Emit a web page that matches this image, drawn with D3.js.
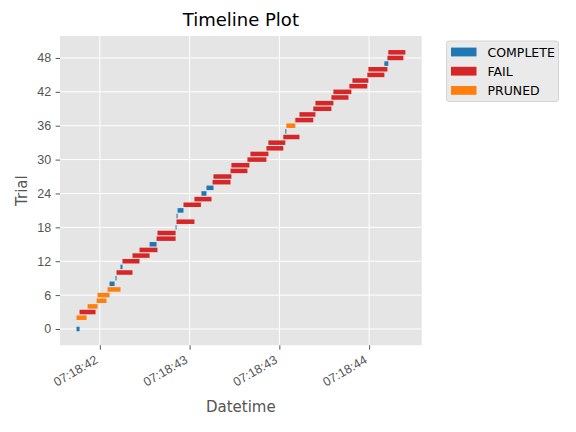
<!DOCTYPE html>
<html>
<head>
<meta charset="utf-8">
<script src="https://cdn.jsdelivr.net/npm/d3@7"></script>
<style>
  body { margin: 0; background: #fff; }
  svg { font-family: "DejaVu Sans", sans-serif; }
</style>
</head>
<body>
<div id="chart"></div>
<script>
// Timeline of optimisation trials (seconds after 07:18:42)
const trials = d3.range(50);
const states = [
  "COMPLETE", "COMPLETE", "PRUNED", "FAIL", "PRUNED", "PRUNED", "PRUNED", "PRUNED", "COMPLETE", "COMPLETE",
  "FAIL", "COMPLETE", "FAIL", "FAIL", "FAIL", "COMPLETE", "FAIL", "FAIL", "COMPLETE", "FAIL",
  "COMPLETE", "COMPLETE", "FAIL", "FAIL", "COMPLETE", "COMPLETE", "FAIL", "FAIL", "FAIL", "FAIL",
  "FAIL", "FAIL", "FAIL", "FAIL", "FAIL", "COMPLETE", "PRUNED", "FAIL", "FAIL", "FAIL",
  "FAIL", "FAIL", "FAIL", "FAIL", "FAIL", "FAIL", "FAIL", "COMPLETE", "FAIL", "FAIL"
];
const starts = [
  0.370, 0.387, 0.370, 0.387, 0.432, 0.482, 0.487, 0.543, 0.554, 0.587,
  0.593, 0.615, 0.626, 0.682, 0.721, 0.777, 0.816, 0.821, 0.922, 0.927,
  0.927, 0.933, 0.966, 1.027, 1.066, 1.094, 1.128, 1.133, 1.228, 1.233,
  1.322, 1.339, 1.428, 1.439, 1.522, 1.533, 1.539, 1.589, 1.612, 1.689,
  1.701, 1.790, 1.801, 1.890, 1.907, 1.990, 1.996, 2.085, 2.102, 2.107
];
const ends = [
  0.387, 0.387, 0.426, 0.476, 0.487, 0.537, 0.554, 0.615, 0.582, 0.593,
  0.682, 0.626, 0.721, 0.777, 0.821, 0.816, 0.922, 0.922, 0.927, 1.027,
  0.933, 0.966, 1.063, 1.122, 1.094, 1.133, 1.228, 1.233, 1.322, 1.333,
  1.428, 1.439, 1.522, 1.533, 1.612, 1.539, 1.589, 1.689, 1.701, 1.790,
  1.801, 1.885, 1.901, 1.990, 1.996, 2.085, 2.102, 2.107, 2.191, 2.202
];
const stateNames = ["COMPLETE", "FAIL", "PRUNED"];
const stateColors = ["#1f77b4", "#d62728", "#ff7f0e"];
const yTickValues = [0, 6, 12, 18, 24, 30, 36, 42, 48];

const base = new Date(2024, 0, 1, 7, 18, 42);
const toDate = s => new Date(base.getTime() + s * 1000);

const width = 576, height = 432;
const margin = { left: 60, right: 576 - 421.7, top: 36, bottom: 432 - 345.3 };
const color = d3.scaleOrdinal().domain(stateNames).range(stateColors);

const svg = d3.select("#chart").append("svg")
  .attr("width", width)
  .attr("height", height);

// matplotlib style 5% margins
const tMin = d3.min(starts), tMax = d3.max(ends);
const tPad = (tMax - tMin) * 0.05;
const x = d3.scaleTime()
  .domain([toDate(tMin - tPad), toDate(tMax + tPad)])
  .range([margin.left, width - margin.right]);

const yLo = d3.min(trials) - 0.4, yHi = d3.max(trials) + 0.4;
const yPad = (yHi - yLo) * 0.05;
const y = d3.scaleLinear()
  .domain([yLo - yPad, yHi + yPad])
  .range([height - margin.bottom, margin.top]);

const plotW = width - margin.left - margin.right;
const plotH = height - margin.top - margin.bottom;

svg.append("rect")
  .attr("x", margin.left).attr("y", margin.top)
  .attr("width", plotW).attr("height", plotH)
  .attr("fill", "#E5E5E5");

const xTicks = x.ticks(d3.timeMillisecond.every(500));

// grid
svg.append("g").selectAll("line").data(xTicks).join("line")
  .attr("x1", d => x(d)).attr("x2", d => x(d))
  .attr("y1", margin.top).attr("y2", height - margin.bottom)
  .attr("stroke", "#fff").attr("stroke-width", 1);
svg.append("g").selectAll("line").data(yTickValues).join("line")
  .attr("y1", d => y(d)).attr("y2", d => y(d))
  .attr("x1", margin.left).attr("x2", width - margin.right)
  .attr("stroke", "#fff").attr("stroke-width", 1);

// bars
const barH = y(0) - y(0.8);
svg.append("g").selectAll("rect").data(trials).join("rect")
  .attr("x", i => x(toDate(starts[i])))
  .attr("y", i => y(trials[i] + 0.4))
  .attr("width", i => x(toDate(ends[i])) - x(toDate(starts[i])))
  .attr("height", barH)
  .attr("fill", i => color(states[i]));

// axes
const fmt = d3.timeFormat("%H:%M:%S");
const xAxis = svg.append("g")
  .attr("transform", `translate(0,${height - margin.bottom})`)
  .call(d3.axisBottom(x).tickValues(xTicks).tickFormat(fmt).tickSize(4.4).tickSizeOuter(0).tickPadding(0));
xAxis.select(".domain").remove();
xAxis.selectAll(".tick line").attr("stroke", "#555").attr("stroke-width", 1);
xAxis.selectAll(".tick text")
  .attr("fill", "#555")
  .attr("font-size", "12.5px")
  .attr("text-anchor", "end")
  .attr("dy", null)
  .attr("y", null)
  .attr("transform", "translate(-1.5,17) rotate(-30)");

const yAxis = svg.append("g")
  .attr("transform", `translate(${margin.left},0)`)
  .call(d3.axisLeft(y).tickValues(yTickValues).tickSize(4.4).tickSizeOuter(0).tickPadding(4.4));
yAxis.select(".domain").remove();
yAxis.selectAll(".tick line").attr("stroke", "#555").attr("stroke-width", 1);
yAxis.selectAll(".tick text")
  .attr("fill", "#555")
  .attr("font-size", "12.5px");

// labels
svg.append("text")
  .attr("x", margin.left + plotW / 2).attr("y", 26)
  .attr("text-anchor", "middle")
  .attr("font-size", "18px")
  .attr("fill", "#000")
  .text("Timeline Plot");
svg.append("text")
  .attr("x", margin.left + plotW / 2).attr("y", 411.5)
  .attr("text-anchor", "middle")
  .attr("font-size", "15px")
  .attr("fill", "#555")
  .text("Datetime");
svg.append("text")
  .attr("transform", `translate(26.5,${margin.top + plotH / 2}) rotate(-90)`)
  .attr("text-anchor", "middle")
  .attr("font-size", "15px")
  .attr("fill", "#555")
  .text("Trial");

// legend
const lg = svg.append("g");
lg.append("rect")
  .attr("x", 446.5).attr("y", 41)
  .attr("width", 112).attr("height", 60.5)
  .attr("rx", 2.5)
  .attr("fill", "#E5E5E5").attr("fill-opacity", 0.8)
  .attr("stroke", "#CCCCCC").attr("stroke-opacity", 0.8).attr("stroke-width", 1);
const items = lg.selectAll("g.item").data(stateNames).join("g")
  .attr("class", "item")
  .attr("transform", (d, i) => `translate(451,${52 + i * 19.2})`);
items.append("rect")
  .attr("x", 0).attr("y", -4.4)
  .attr("width", 25.5).attr("height", 8.8)
  .attr("fill", d => color(d));
items.append("text")
  .attr("x", 36.5).attr("y", 4.5)
  .attr("font-size", "12.5px")
  .attr("fill", "#000")
  .text(d => d);
</script>
</body>
</html>
